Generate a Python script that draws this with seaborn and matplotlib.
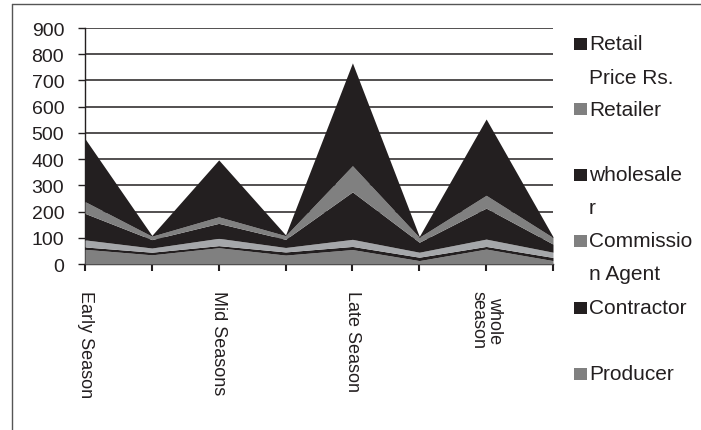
import numpy as np
import pandas as pd
import matplotlib
matplotlib.use('Agg')
import matplotlib.pyplot as plt
import matplotlib.patches as patches
import matplotlib.lines as mlines
import seaborn as sns

# data (stack order bottom -> top)
categories = ['Early Season', '', 'Mid Seasons', '', 'Late Season', '', 'whole\nseason', '']
producer = [56, 35, 62, 34, 55, 13, 57, 13]
contractor = [9, 10, 8, 12, 12, 13, 10, 12]
commission_agent = [27, 16, 28, 17, 27, 19, 28, 20]
wholesaler = [101, 32, 57, 31, 181, 38, 118, 31]
retailer = [45, 13, 25, 14, 100, 19, 49, 25]
retail_price = [240, 3, 217, 3, 392, 3, 291, 3]

series_names = ['Producer', 'Contractor', 'Commission Agent', 'wholesaler', 'Retailer', 'Retail Price Rs.']
legend_lines = [['Producer'], ['Contractor', ''], ['Commissio', 'n Agent'],
                ['wholesale', 'r'], ['Retailer', ''], ['Retail', 'Price Rs.']]
yticks = [0, 100, 200, 300, 400, 500, 600, 700, 800, 900]

df = pd.DataFrame({'Producer': producer,
                   'Contractor': contractor,
                   'Commission Agent': commission_agent,
                   'wholesaler': wholesaler,
                   'Retailer': retailer,
                   'Retail Price Rs.': retail_price}, index=categories)

BLACK = '#231f20'
GRAY = '#808080'
LIGHT = '#a5a7aa'
colors = [GRAY, BLACK, LIGHT, BLACK, GRAY, BLACK]
legend_colors = [GRAY, BLACK, GRAY, BLACK, GRAY, BLACK]

sns.set_style('white')
plt.rcParams['font.family'] = ['Liberation Sans', 'DejaVu Sans']
plt.rcParams['text.color'] = BLACK

fig = plt.figure(figsize=(7.01, 4.31), dpi=100)
W, H = 701, 431
ax = fig.add_axes([85 / W, 1 - 265 / H, (553 - 85) / W, (265 - 29) / H])

x = np.arange(len(categories))
ax.stackplot(x, [df[c].values for c in series_names], colors=colors,
             linewidth=0, zorder=3)

ax.set_xlim(0, len(categories) - 1)
ax.set_ylim(0, 900)
ax.set_yticks(yticks)
ax.set_yticklabels([str(v) for v in yticks], fontsize=14, color=BLACK)
ax.set_xticks(x)
ax.set_xticklabels(categories, rotation=270, fontsize=13, color=BLACK,
                   linespacing=0.95)
ax.yaxis.grid(True, color=BLACK, linewidth=1.1, zorder=1)
ax.set_axisbelow(True)
ax.tick_params(axis='y', length=5, width=1, color=BLACK, pad=10, left=True)
ax.tick_params(axis='x', length=5, width=1.5, color=BLACK, pad=14, bottom=True)

sns.despine(ax=ax, top=True, right=True)
ax.spines['left'].set_color(BLACK)
ax.spines['left'].set_linewidth(1)
ax.spines['bottom'].set_color(BLACK)
ax.spines['bottom'].set_linewidth(1)

# legend drawn in figure pixels, top entry = last series
line_h = 33
entry_y = [45, 110, 176, 242, 309, 375]
for i, (lines, col) in enumerate(zip(legend_lines[::-1], legend_colors[::-1])):
    y0 = entry_y[i]
    fig.patches.append(patches.Rectangle((574 / W, 1 - (y0 + 6) / H), 13 / W, 12 / H,
                                         transform=fig.transFigure, facecolor=col,
                                         edgecolor='none'))
    for j, t in enumerate(lines):
        fig.text(589 / W, 1 - (y0 + j * line_h) / H, t, fontsize=15,
                 va='center', ha='left', color=BLACK)

# outer chart frame (top and left visible)
fig.add_artist(mlines.Line2D([12 / W, 1], [1 - 5 / H, 1 - 5 / H],
                             transform=fig.transFigure, color='#555555', linewidth=1))
fig.add_artist(mlines.Line2D([12 / W, 12 / W], [0, 1 - 5 / H],
                             transform=fig.transFigure, color='#555555', linewidth=1))

plt.savefig('out.png', dpi=100)
